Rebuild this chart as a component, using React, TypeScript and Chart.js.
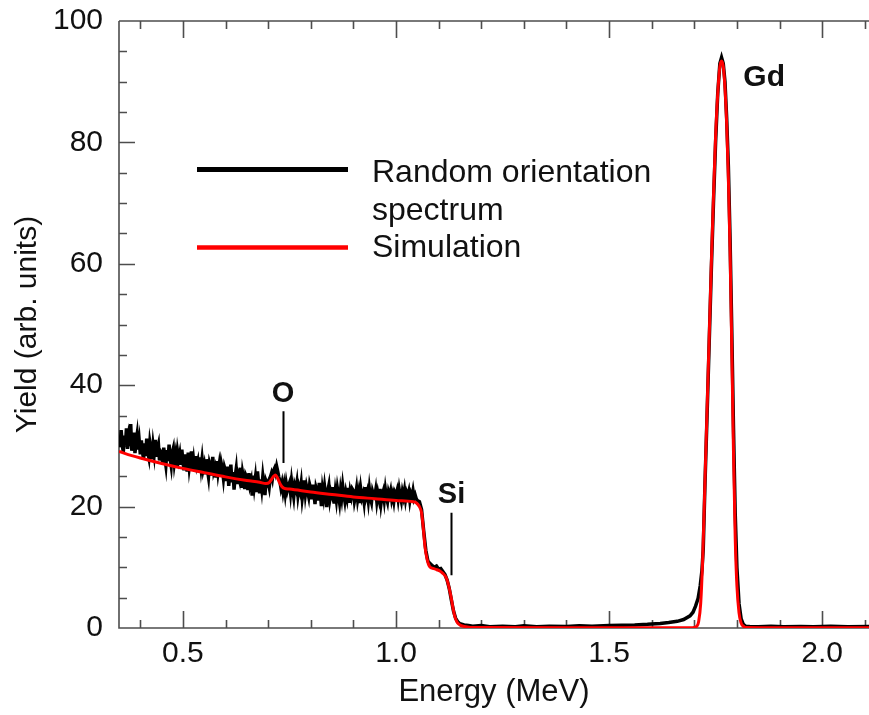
import { useEffect, useRef } from 'react';
import { Chart, registerables } from 'chart.js';

Chart.register(...registerables);

const FONT = '"Liberation Sans", Arial, Helvetica, sans-serif';

// ---- axes ----
const X_MIN = 0.35;
const X_MAX = 2.11;
const Y_MIN = 0;
const Y_MAX = 100;
const xTickValues = [0.5, 1.0, 1.5, 2.0];
const yStep = 20;

// ---- measured spectrum (random orientation), dense channels 0.3500 ... 1.0500 MeV ----
const specStartMeV = 0.35;
const specStepMeV = 0.0025;
const specNoisyYield = [
  31.2, 29.8, 32.6, 30.4, 28.9, 31.7, 30.1, 32.9, 29.5, 31.3, 30.0, 33.6, 29.2, 31.0, 32.2, 28.8, 30.7, 31.9, 29.4, 30.8,
  28.6, 30.9, 29.2, 27.7, 30.4, 28.3, 31.2, 29.0, 28.1, 30.6, 29.5, 27.8, 30.1, 28.7, 31.0, 28.2, 29.6, 30.3, 27.6, 29.1,
  28.8, 27.0, 29.7, 28.1, 26.8, 29.3, 27.5, 30.2, 27.9, 26.7, 28.9, 29.6, 27.2, 28.4, 26.6, 29.0, 27.8, 28.7, 26.9, 29.4,
  27.4, 26.0, 28.6, 27.1, 25.8, 28.9, 26.5, 27.8, 29.1, 26.2, 27.6, 25.9, 28.3, 26.8, 27.5, 25.7, 28.1, 26.4, 27.9, 26.1,
  26.9, 25.3, 27.8, 26.1, 24.9, 27.2, 26.6, 25.1, 28.2, 25.8, 26.4, 24.8, 27.5, 25.6, 26.8, 25.0, 27.1, 26.2, 24.7, 26.5,
  25.9, 24.2, 26.6, 23.4, 25.3, 26.9, 24.0, 25.7, 22.8, 24.9, 26.2, 23.7, 25.1, 24.4, 26.4, 23.1, 25.6, 24.6, 22.9, 25.2,
  24.8, 22.7, 25.5, 23.6, 24.3, 21.8, 25.1, 23.3, 24.7, 22.4, 25.8, 23.9, 22.2, 24.5, 23.0, 25.0, 23.5, 21.9, 24.2, 23.7,
  24.1, 23.2, 24.8, 25.4, 24.6, 25.9, 26.3, 25.6, 26.6, 25.8, 24.9, 24.2, 23.1, 23.9, 22.5, 23.6, 22.2, 23.8, 22.7, 23.4,
  23.9, 22.3, 24.2, 22.8, 21.6, 23.5, 22.9, 24.0, 21.9, 23.2, 22.5, 23.8, 21.4, 22.7, 24.3, 22.1, 23.4, 22.6, 21.7, 23.6,
  22.9, 21.2, 23.6, 22.0, 20.4, 23.1, 22.5, 21.0, 23.9, 22.2, 20.1, 22.8, 21.6, 23.3, 21.9, 19.9, 22.6, 23.5, 21.3, 22.4,
  21.8, 23.2, 20.5, 22.4, 21.1, 23.0, 21.9, 20.7, 22.7, 21.5, 23.4, 22.0, 20.9, 22.3, 21.4, 23.1, 20.6, 22.5, 21.7, 22.9,
  22.6, 20.9, 21.8, 23.0, 21.2, 22.3, 20.6, 22.8, 21.5, 22.1, 20.8, 23.2, 21.7, 22.4, 21.0, 22.9, 21.4, 20.7, 22.5, 21.9,
  21.6, 22.7, 20.9, 22.2, 21.3, 22.9, 20.6, 21.9, 22.5, 21.1, 22.8, 21.5, 20.8, 22.4, 21.8, 22.6, 21.2, 22.0, 20.9, 22.3,
  21.9, 22.6, 21.3, 22.8, 21.7, 20.9, 22.4, 21.6, 22.7, 21.2, 22.3, 21.8, 22.5, 21.0, 22.1, 21.6, 22.6, 21.4, 21.9, 21.3,
  21.0,
];

// ---- measured spectrum, Si edge, background and Gd peak ----
const specTailEnergy = [
  1.055, 1.060, 1.065, 1.070, 1.075, 1.080, 1.085, 1.090, 1.095, 1.100,
  1.105, 1.110, 1.115, 1.120, 1.125, 1.130, 1.135, 1.140, 1.145, 1.150,
  1.160, 1.170, 1.180,
  1.200, 1.220, 1.250, 1.280, 1.300, 1.330, 1.360, 1.400, 1.430, 1.460,
  1.500, 1.530, 1.560, 1.590, 1.620, 1.640, 1.660, 1.675, 1.690,
  1.697, 1.703, 1.709, 1.714, 1.718, 1.721, 1.725,
  1.730, 1.735, 1.740, 1.745, 1.750, 1.755, 1.760, 1.764, 1.768, 1.772,
  1.776, 1.780, 1.784, 1.788, 1.792, 1.796, 1.800,
  1.805, 1.810, 1.815, 1.820,
  1.830, 1.850, 1.880, 1.910, 1.950, 1.980, 2.020, 2.060, 2.110,
];
const specTailYield = [
  20.8, 19.5, 16.0, 12.8, 11.0, 10.6, 10.3, 10.0, 10.2, 9.7,
  9.8, 9.3, 8.8, 7.9, 6.5, 4.6, 2.8, 1.6, 1.0, 0.7,
  0.5, 0.4, 0.3,
  0.4, 0.2, 0.3, 0.2, 0.35, 0.2, 0.3, 0.25, 0.35, 0.3,
  0.4, 0.45, 0.5, 0.6, 0.75, 0.9, 1.1, 1.4, 2.0,
  2.6, 3.6, 4.9, 7.0, 9.5, 13.0, 23.5,
  35.0, 47.0, 59.0, 70.0, 80.0, 88.0, 93.0, 94.0, 93.0, 90.0,
  84.0, 76.0, 64.0, 49.0, 33.0, 19.0, 10.0,
  4.0, 1.5, 0.6, 0.3,
  0.25, 0.2, 0.3, 0.2, 0.25, 0.2, 0.3, 0.2, 0.25,
];

// ---- simulation ----
const simEnergy = [
  0.350, 0.380, 0.400, 0.450, 0.500, 0.550, 0.600, 0.650, 0.680, 0.695,
  0.703, 0.708, 0.713, 0.717, 0.722, 0.727, 0.732, 0.738, 0.750,
  0.800, 0.850, 0.900, 0.950, 1.000, 1.040, 1.048, 1.054, 1.060, 1.064,
  1.068, 1.073, 1.079, 1.088, 1.096, 1.103, 1.110, 1.117, 1.122, 1.126,
  1.130, 1.134, 1.138, 1.143, 1.150, 1.160, 1.175, 1.200, 1.400, 1.600,
  1.690, 1.700, 1.706, 1.710, 1.715, 1.720, 1.725, 1.730, 1.735, 1.740,
  1.745, 1.750, 1.755, 1.760, 1.764, 1.768, 1.772, 1.776, 1.780, 1.784,
  1.788, 1.792, 1.796, 1.800, 1.805, 1.810, 1.815, 1.820, 1.900, 2.110,
];
const simYield = [
  29.1, 28.4, 28.0, 27.1, 26.3, 25.6, 24.9, 24.3, 24.0, 23.8,
  24.0, 24.5, 25.0, 25.2, 24.7, 23.9, 23.3, 23.0, 22.9,
  22.4, 22.0, 21.6, 21.3, 21.0, 20.8, 20.6, 20.1, 19.0, 16.5,
  13.4, 11.3, 10.1, 9.8, 9.6, 9.4, 9.0, 8.4, 7.4, 6.2,
  4.8, 3.2, 1.9, 1.0, 0.5, 0.25, 0.1, 0.08, 0.06, 0.06,
  0.06, 0.1, 0.3, 1.0, 4.0, 12.0, 24.0, 36.0, 48.0, 60.0,
  71.0, 81.0, 88.0, 92.5, 93.4, 92.5, 89.0, 83.0, 74.0, 62.0,
  46.0, 29.0, 15.0, 7.0, 2.5, 0.8, 0.3, 0.1, 0.06, 0.05,
];

// ---- text ----
const seriesNames = ['Random orientation spectrum', 'Simulation'];
const legendLines = [['Random orientation', 'spectrum'], ['Simulation']];
const elementNames = ['O', 'Si', 'Gd'];
const elementEnergy = [0.735, 1.128, 1.864];

const AXIS_COLOR = '#4d4d4d';
const TEXT_COLOR = '#111111';
const RED = '#ff0000';

const framePlugin = {
  id: 'frame',
  beforeDatasetsDraw(chart: any) {
    const { ctx, chartArea } = chart;
    const xs = chart.scales.x;
    const ys = chart.scales.y;
    const { left, right, top, bottom } = chartArea;
    ctx.save();
    ctx.strokeStyle = AXIS_COLOR;
    ctx.lineWidth = 1.6;
    ctx.beginPath();
    ctx.moveTo(left, top);
    ctx.lineTo(left, bottom);
    ctx.lineTo(right + 2, bottom);
    ctx.moveTo(left, top);
    ctx.lineTo(right + 2, top);
    const i0 = Math.ceil(X_MIN * 10 - 1e-9);
    const i1 = Math.floor(X_MAX * 10 + 1e-9);
    for (let i = i0; i <= i1; i++) {
      const px = Math.round(xs.getPixelForValue(i / 10)) + 0.5;
      const len = i % 5 === 0 ? 17 : 8;
      ctx.moveTo(px, bottom);
      ctx.lineTo(px, bottom - len);
      ctx.moveTo(px, top);
      ctx.lineTo(px, top + len);
    }
    for (let j = 1; j < 20; j++) {
      const py = Math.round(ys.getPixelForValue(j * 5)) + 0.5;
      const len = j % 4 === 0 ? 16 : 8;
      ctx.moveTo(left, py);
      ctx.lineTo(left + len, py);
    }
    ctx.stroke();
    ctx.restore();
  },
  afterDraw(chart: any) {
    const { ctx } = chart;
    const xs = chart.scales.x;
    const ys = chart.scales.y;
    ctx.save();
    // legend
    ctx.lineCap = 'butt';
    ctx.strokeStyle = '#000';
    ctx.lineWidth = 5;
    ctx.beginPath();
    ctx.moveTo(197, 169.5);
    ctx.lineTo(348, 169.5);
    ctx.stroke();
    ctx.strokeStyle = RED;
    ctx.lineWidth = 4.5;
    ctx.beginPath();
    ctx.moveTo(197, 247.5);
    ctx.lineTo(348, 247.5);
    ctx.stroke();
    ctx.fillStyle = TEXT_COLOR;
    ctx.font = `32px ${FONT}`;
    ctx.textAlign = 'left';
    ctx.textBaseline = 'middle';
    ctx.fillText(legendLines[0][0], 372, 173);
    ctx.fillText(legendLines[0][1], 372, 211);
    ctx.fillText(legendLines[1][0], 372, 248);

    // element labels
    ctx.font = `bold 29px ${FONT}`;
    ctx.textAlign = 'center';
    ctx.fillText(elementNames[0], xs.getPixelForValue(elementEnergy[0]), ys.getPixelForValue(38.6));
    ctx.fillText(elementNames[1], xs.getPixelForValue(elementEnergy[1]) + 1, ys.getPixelForValue(21.9));
    ctx.font = `bold 30px ${FONT}`;
    ctx.fillText(elementNames[2], xs.getPixelForValue(elementEnergy[2]), ys.getPixelForValue(90.6));

    ctx.strokeStyle = '#000';
    ctx.lineWidth = 2;
    ctx.beginPath();
    const ox = Math.round(xs.getPixelForValue(elementEnergy[0])) + 0.5;
    ctx.moveTo(ox, ys.getPixelForValue(35.7));
    ctx.lineTo(ox, ys.getPixelForValue(27.2));
    const sx = Math.round(xs.getPixelForValue(elementEnergy[1])) + 0.5;
    ctx.moveTo(sx, ys.getPixelForValue(19.0));
    ctx.lineTo(sx, ys.getPixelForValue(8.7));
    ctx.stroke();
    ctx.restore();
  },
};

export default function App() {
  const ref = useRef<HTMLCanvasElement | null>(null);

  useEffect(() => {
    const canvas = ref.current;
    if (!canvas) return;

    const specData = [
      ...specNoisyYield.map((y, i) => ({ x: +(specStartMeV + i * specStepMeV).toFixed(4), y })),
      ...specTailEnergy.map((x, i) => ({ x, y: specTailYield[i] })),
    ];
    const simData = simEnergy.map((x, i) => ({ x, y: simYield[i] }));

    const chart = new Chart(canvas, {
      type: 'line',
      data: {
        datasets: [
          {
            label: seriesNames[1],
            data: simData,
            borderColor: RED,
            borderWidth: 3,
            pointRadius: 0,
            cubicInterpolationMode: 'monotone',
            order: 0,
          },
          {
            label: seriesNames[0],
            data: specData,
            borderColor: '#000000',
            borderWidth: 3.5,
            pointRadius: 0,
            tension: 0,
            order: 1,
          },
        ],
      },
      options: {
        animation: false,
        responsive: false,
        maintainAspectRatio: false,
        layout: { padding: 0 },
        plugins: { legend: { display: false }, tooltip: { enabled: false } },
        scales: {
          x: {
            type: 'linear',
            position: 'bottom',
            min: X_MIN,
            max: X_MAX,
            afterBuildTicks: (s: any) => {
              s.ticks = xTickValues.map((v) => ({ value: v }));
            },
            ticks: {
              autoSkip: false,
              maxRotation: 0,
              padding: 8,
              color: TEXT_COLOR,
              font: { size: 30, family: FONT },
              callback: (v: any) => Number(v).toFixed(1),
            },
            grid: { display: false, drawTicks: false },
            border: { display: false },
            title: {
              display: true,
              text: 'Energy (MeV)',
              color: TEXT_COLOR,
              font: { size: 31, family: FONT },
              padding: { top: 0, bottom: 4 },
            },
            afterFit: (s: any) => {
              s.height = 87;
              s.paddingLeft = 0;
              s.paddingRight = 0;
            },
          },
          xTop: {
            type: 'linear',
            position: 'top',
            min: X_MIN,
            max: X_MAX,
            ticks: { display: false },
            grid: { display: false, drawTicks: false },
            border: { display: false },
            afterFit: (s: any) => {
              s.height = 21;
              s.paddingLeft = 0;
              s.paddingRight = 0;
            },
          },
          y: {
            type: 'linear',
            position: 'left',
            min: Y_MIN,
            max: Y_MAX,
            ticks: {
              stepSize: yStep,
              padding: 16,
              color: TEXT_COLOR,
              font: { size: 30, family: FONT },
            },
            grid: { display: false, drawTicks: false },
            border: { display: false },
            title: {
              display: true,
              text: 'Yield (arb. units)',
              color: TEXT_COLOR,
              font: { size: 30, family: FONT },
              padding: { top: 10, bottom: 0 },
            },
            afterFit: (s: any) => {
              s.width = 119;
              s.paddingTop = 0;
              s.paddingBottom = 0;
            },
          },
        },
      } as any,
      plugins: [framePlugin],
    });

    return () => chart.destroy();
  }, []);

  return (
    <div style={{ position: 'fixed', left: 0, top: 0, width: 869, height: 715, background: '#fff' }}>
      <canvas ref={ref} width={869} height={715} style={{ display: 'block', width: 869, height: 715 }} />
    </div>
  );
}
